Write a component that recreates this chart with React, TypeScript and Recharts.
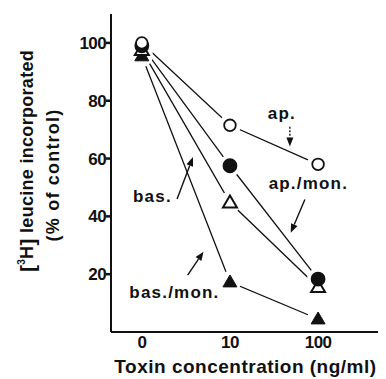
import { LineChart, Line, XAxis, YAxis, ReferenceLine, ReferenceDot } from "recharts"

// concentrations are placed at equal steps, like the original plot
const conc = ["0", "10", "100"]
const xPos = [0, 1, 2]

const ap = [100, 71.5, 58]
const apMon = [99, 57.5, 18.3]
const bas = [97.5, 44.8, 15.5]
const basMon = [95.5, 17.3, 4.5]

const yTicks = [20, 40, 60, 80, 100]

const notes = [
  { text: "ap.", x: 1.59, y: 75.6 },
  { text: "ap./mon.", x: 1.89, y: 51.7 },
  { text: "bas.", x: 0.12, y: 47.2 },
  { text: "bas./mon.", x: 0.37, y: 13.8 },
]

const arrows = [
  { x1: 1.68, y1: 71, x2: 1.68, y2: 64.2, dashed: true },
  { x1: 1.85, y1: 45.8, x2: 1.69, y2: 34.3, dashed: false },
  { x1: 0.4, y1: 46, x2: 0.58, y2: 60.5, dashed: false },
  { x1: 0.52, y1: 19.7, x2: 0.7, y2: 27.8, dashed: false },
]

const data = xPos.map((x, i) => ({
  x,
  ap: ap[i],
  apMon: apMon[i],
  bas: bas[i],
  basMon: basMon[i],
}))

const series: { key: string; kind: string }[] = [
  { key: "basMon", kind: "triFill" },
  { key: "bas", kind: "triOpen" },
  { key: "apMon", kind: "circFill" },
  { key: "ap", kind: "circOpen" },
]

const FONT = "'Liberation Sans', Arial, sans-serif"
const INK = "#111"
const domainX: [number, number] = [-0.35, 2.68]

function haloDot(props: any) {
  const { cx, cy, index } = props
  if (cx == null || cy == null) return <g key={index} />
  return <circle key={index} cx={cx} cy={cy} r={11} fill="#fff" stroke="none" />
}

function makeMarker(kind: string) {
  return (props: any) => {
    const { cx, cy, index } = props
    if (cx == null || cy == null) return <g key={index} />
    if (kind === "circOpen" || kind === "circFill") {
      return (
        <circle
          key={index}
          cx={cx}
          cy={cy}
          r={kind === "circOpen" ? 5.8 : 6.5}
          fill={kind === "circFill" ? INK : "#fff"}
          stroke={INK}
          strokeWidth={1.8}
        />
      )
    }
    const s = 7
    const pts = `${cx},${cy - s} ${cx - s},${cy + s * 0.7} ${cx + s},${cy + s * 0.7}`
    return (
      <polygon
        key={index}
        points={pts}
        fill={kind === "triFill" ? INK : "#fff"}
        stroke={INK}
        strokeWidth={kind === "triFill" ? 1 : 2}
        strokeLinejoin="miter"
      />
    )
  }
}

function Arrow(props: any) {
  const { x1, y1, x2, y2, dashed } = props
  const a = Math.atan2(y2 - y1, x2 - x1)
  const L = 9
  const W = 3.5
  const bx = x2 - L * Math.cos(a)
  const by = y2 - L * Math.sin(a)
  const px = -Math.sin(a) * W
  const py = Math.cos(a) * W
  return (
    <g>
      <line
        x1={x1}
        y1={y1}
        x2={bx}
        y2={by}
        stroke={INK}
        strokeWidth={1.4}
        strokeDasharray={dashed ? "2 1.5" : undefined}
      />
      <polygon points={`${x2},${y2} ${bx + px},${by + py} ${bx - px},${by - py}`} fill={INK} />
    </g>
  )
}

function YLabel() {
  const c1 = 161
  const c2 = 175
  return (
    <g fontFamily={FONT} fontWeight="bold" fill={INK}>
      <text
        x={27}
        y={c1}
        transform={`rotate(-90, 27, ${c1})`}
        textAnchor="middle"
        dominantBaseline="central"
        fontSize={18}
        letterSpacing={0.3}
      >
        <tspan fontSize={21}>[</tspan>
        <tspan fontSize={10} dy={-6}>3</tspan>
        <tspan dy={6}>H</tspan>
        <tspan fontSize={21}>]</tspan> leucine incorporated
      </text>
      <text
        x={53}
        y={c2}
        transform={`rotate(-90, 53, ${c2})`}
        textAnchor="middle"
        dominantBaseline="central"
        fontSize={18}
        letterSpacing={1.2}
      >
        (% of control)
      </text>
    </g>
  )
}

function XLabel(props: any) {
  const { viewBox } = props
  return (
    <text
      x={viewBox.x + viewBox.width / 2 + 1}
      y={373}
      textAnchor="middle"
      fontFamily={FONT}
      fontWeight="bold"
      fontSize={19}
      letterSpacing={0.5}
      fill={INK}
    >
      Toxin concentration (ng/ml)
    </text>
  )
}

const tickStyle = { fontSize: 17, fontWeight: "bold", fill: INK, fontFamily: FONT, letterSpacing: -0.6 }

export default function App() {
  return (
    <div style={{ position: "absolute", left: 0, top: 0, background: "#fff", fontFamily: FONT }}>
      <LineChart width={386} height={379} data={data} margin={{ top: 14, right: 8, left: 0, bottom: 0 }}>
        <XAxis
          dataKey="x"
          type="number"
          domain={domainX}
          allowDataOverflow
          ticks={xPos}
          tickFormatter={(v) => conc[v] ?? ""}
          height={47}
          stroke={INK}
          strokeWidth={2}
          tickLine={false}
          tickSize={0}
          tickMargin={4}
          tick={tickStyle}
          label={<XLabel />}
        />
        <XAxis
          xAxisId="bm"
          dataKey="x"
          type="number"
          domain={domainX}
          allowDataOverflow
          ticks={xPos}
          tickFormatter={() => ""}
          mirror
          height={0}
          axisLine={false}
          tickSize={7}
          tickLine={{ stroke: INK, strokeWidth: 2 }}
        />
        <XAxis
          xAxisId="top"
          orientation="top"
          dataKey="x"
          type="number"
          domain={domainX}
          allowDataOverflow
          ticks={[0, 1]}
          tickFormatter={() => ""}
          mirror
          height={0}
          stroke={INK}
          strokeWidth={2}
          tickSize={7}
          tickLine={{ stroke: INK, strokeWidth: 2 }}
        />
        <YAxis
          type="number"
          domain={[0, 110]}
          ticks={yTicks}
          width={111}
          stroke={INK}
          strokeWidth={2}
          tickSize={5}
          tickMargin={0}
          tickLine={{ stroke: INK, strokeWidth: 2.5 }}
          tick={tickStyle}
          label={<YLabel />}
        />
        <YAxis
          yAxisId="right"
          orientation="right"
          type="number"
          domain={[0, 110]}
          ticks={yTicks}
          tickFormatter={() => ""}
          mirror
          width={0}
          stroke={INK}
          strokeWidth={2}
          tickSize={6}
          tickLine={{ stroke: INK, strokeWidth: 2 }}
        />

        {series.map((s) => (
          <Line
            key={"l" + s.key}
            dataKey={s.key}
            type="linear"
            stroke={INK}
            strokeWidth={1.3}
            dot={false}
            activeDot={false}
            isAnimationActive={false}
          />
        ))}
        {series.map((s) => (
          <Line
            key={"h" + s.key}
            dataKey={s.key}
            stroke="none"
            dot={haloDot}
            activeDot={false}
            isAnimationActive={false}
          />
        ))}
        {series.map((s) => (
          <Line
            key={"m" + s.key}
            dataKey={s.key}
            stroke="none"
            dot={makeMarker(s.kind)}
            activeDot={false}
            isAnimationActive={false}
          />
        ))}

        {arrows.map((a, i) => (
          <ReferenceLine
            key={"a" + i}
            segment={[
              { x: a.x1, y: a.y1 },
              { x: a.x2, y: a.y2 },
            ]}
            shape={(p: any) => <Arrow {...p} dashed={a.dashed} />}
          />
        ))}
        {notes.map((n) => (
          <ReferenceDot
            key={n.text}
            x={n.x}
            y={n.y}
            r={0}
            fill="none"
            stroke="none"
            label={{
              value: n.text,
              position: "center",
              fontSize: 17,
              fontWeight: "bold",
              fill: INK,
              fontFamily: FONT,
              letterSpacing: 1.2,
            }}
          />
        ))}
      </LineChart>
    </div>
  )
}
